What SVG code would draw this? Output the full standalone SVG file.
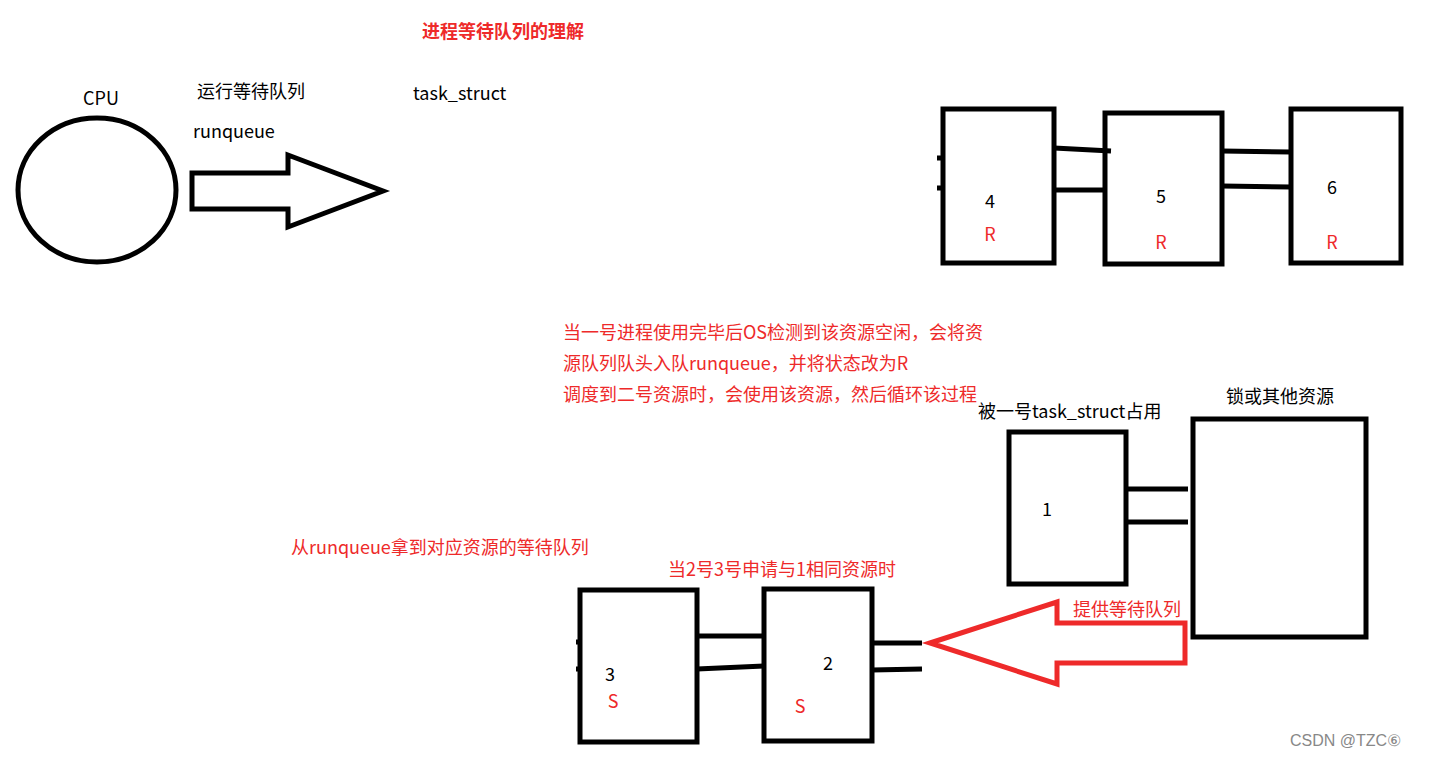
<svg xmlns="http://www.w3.org/2000/svg" width="1430" height="758" viewBox="0 0 1430 758">
<style>
.t{font-family:"Noto Sans CJK SC","Noto Sans",sans-serif;font-size:18px;fill:#000}
.r{fill:#ee2a2a}
.box{fill:none;stroke:#000;stroke-width:5}
.ln{fill:none;stroke:#000;stroke-width:5}
</style>
<rect width="1430" height="758" fill="#fff"/>
<text class="t r" x="422" y="38" font-weight="bold" font-size="17">进程等待队列的理解</text>
<g id="cpu">
<ellipse cx="97" cy="190" rx="79" ry="72" class="box"/>
<text class="t" x="101" y="105" text-anchor="middle">CPU</text>
</g>
<g id="runqueue-arrow">
<polygon points="192,173 288,173 288,155 383,191 288,227 288,209 192,209" class="box" stroke-linejoin="miter"/>
<text class="t" x="197" y="98">运行等待队列</text>
<text class="t" x="193" y="138">runqueue</text>
</g>
<text class="t" x="413" y="100">task_struct</text>
<g id="task4"><rect x="943" y="109" width="111" height="154" class="box"/><text class="t" x="990" y="208" text-anchor="middle">4</text><text class="t r" x="990" y="241" text-anchor="middle">R</text></g>
<g id="task5"><rect x="1105" y="113" width="117" height="151" class="box"/><text class="t" x="1161" y="203" text-anchor="middle">5</text><text class="t r" x="1161" y="249" text-anchor="middle">R</text></g>
<g id="task6"><rect x="1291" y="109" width="110" height="154" class="box"/><text class="t" x="1332" y="194" text-anchor="middle">6</text><text class="t r" x="1332" y="249" text-anchor="middle">R</text></g>
<g id="text-block">
<text class="t r" x="563" y="339">当一号进程使用完毕后OS检测到该资源空闲，会将资</text>
<text class="t r" x="563" y="370">源队列队头入队runqueue，并将状态改为R</text>
<text class="t r" x="563" y="401">调度到二号资源时，会使用该资源，然后循环该过程</text>
</g>
<g id="task1"><rect x="1009" y="432" width="117" height="152" class="box"/><text class="t" x="1047" y="516" text-anchor="middle">1</text>
<text class="t" x="978" y="418">被一号task_struct占用</text></g>
<g id="resource"><rect x="1193" y="419" width="173" height="218" class="box"/><text class="t" x="1280" y="403" text-anchor="middle">锁或其他资源</text></g>
<text class="t r" x="291" y="554">从runqueue拿到对应资源的等待队列</text>
<text class="t r" x="668" y="576">当2号3号申请与1相同资源时</text>
<g id="task3"><rect x="580" y="590" width="117" height="152" class="box"/><text class="t" x="610" y="681" text-anchor="middle">3</text><text class="t r" x="613" y="708" text-anchor="middle">S</text></g>
<g id="task2"><rect x="764" y="589" width="108" height="152" class="box"/><text class="t" x="828" y="670" text-anchor="middle">2</text><text class="t r" x="800" y="713" text-anchor="middle">S</text></g>
<g id="wait-arrow">
<polygon points="930,643 1057,602 1057,623 1185,623 1185,663 1057,663 1057,684" fill="none" stroke="#ee2a2a" stroke-width="5"/>
<text class="t r" x="1073" y="616">提供等待队列</text>
</g>
<g id="connectors">
<path class="ln" d="M1054,148 L1111,151 M1054,190 L1105,190 M1222,151 L1291,152 M1222,186 L1291,187 M937,158 L943,158 M937,188 L943,188 M1126,489 L1188,489 M1126,522 L1188,522 M697,636 L764,636 M697,669 L764,666 M872,643 L922,643 M872,670 L922,669 M576,642 L580,642 M576,669 L580,669"/>
</g>
<text x="1290" y="746" font-family="Liberation Sans, sans-serif" font-size="16" fill="#888">CSDN @TZC⑥</text>
</svg>
